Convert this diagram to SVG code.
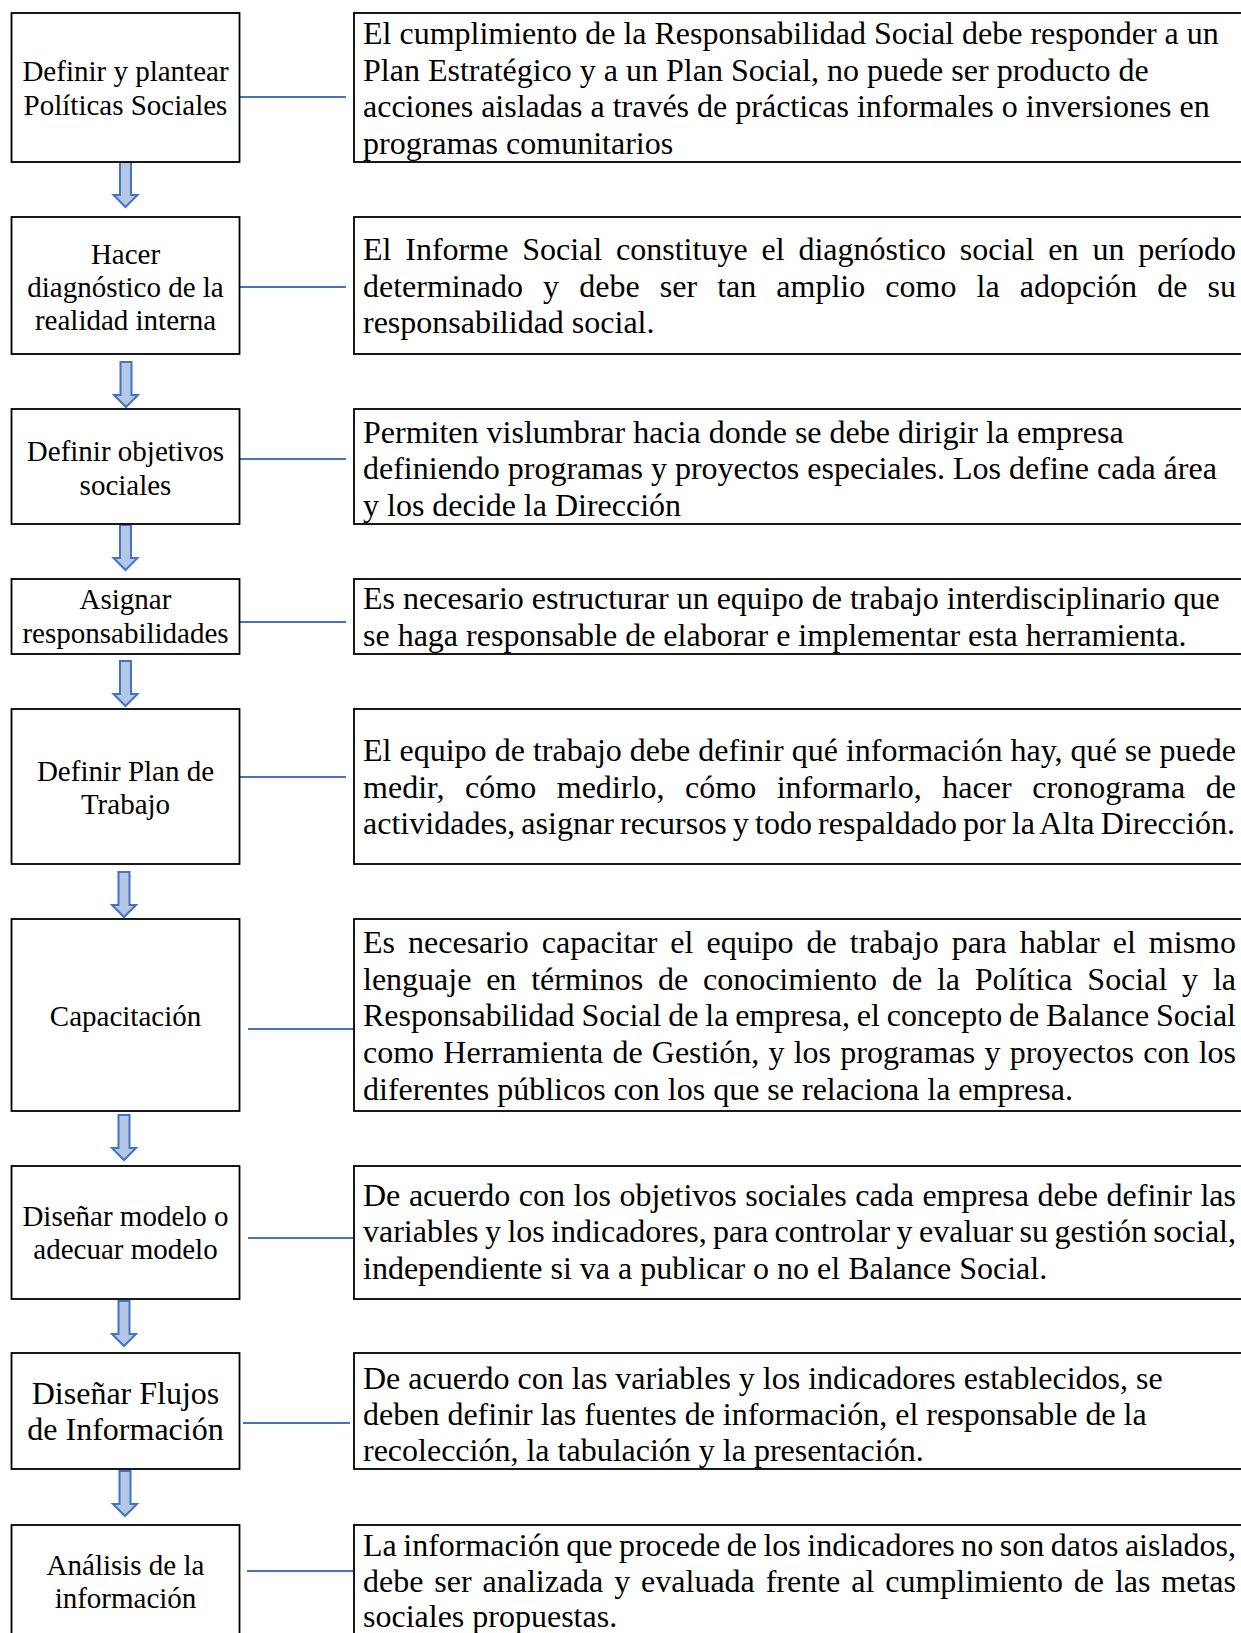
<svg xmlns="http://www.w3.org/2000/svg" xmlns:xlink="http://www.w3.org/1999/xlink" width="1241" height="1633" viewBox="0 0 1241 1633">
  <style>
    .box { fill: #ffffff; stroke: #000000; stroke-width: 1.8; }
    .step { font-family: "Liberation Serif", "Times New Roman", serif; font-size: 29px; fill: #000000; text-anchor: middle; }
    .step-lg { font-size: 32px; }
    .note { font-family: "Liberation Serif", "Times New Roman", serif; font-size: 32px; fill: #000000; }
    .link { stroke: #4472c4; stroke-width: 2; fill: none; }
    .arrow { fill: #b4c7e7; stroke: #4472c4; stroke-width: 2; stroke-linejoin: miter; }
  </style>
  <defs>
    <!-- downward block arrow, origin at top centre of the shaft -->
    <path id="down" d="M-5.5,0 H5.5 V33 H12 L0,45 L-12,33 H-5.5 Z"/>
  </defs>
  <rect width="1241" height="1633" fill="#ffffff"/>

  <!-- horizontal links between each step and its description -->
  <g id="connectors">
    <line class="link" x1="240" y1="97" x2="346" y2="97"/>
    <line class="link" x1="240" y1="287" x2="346" y2="287"/>
    <line class="link" x1="240" y1="459" x2="346" y2="459"/>
    <line class="link" x1="240" y1="622" x2="346" y2="622"/>
    <line class="link" x1="240" y1="777" x2="346" y2="777"/>
    <line class="link" x1="248" y1="1029" x2="354" y2="1029"/>
    <line class="link" x1="248" y1="1238" x2="354" y2="1238"/>
    <line class="link" x1="243" y1="1423" x2="350" y2="1423"/>
    <line class="link" x1="247" y1="1571" x2="354" y2="1571"/>
    <!-- flow arrows between steps -->
    <use xlink:href="#down" class="arrow" x="125.5" y="162"/>
    <use xlink:href="#down" class="arrow" x="126" y="362"/>
    <use xlink:href="#down" class="arrow" x="125.5" y="525"/>
    <use xlink:href="#down" class="arrow" x="125.5" y="661"/>
    <use xlink:href="#down" class="arrow" x="124" y="872"/>
    <use xlink:href="#down" class="arrow" x="124" y="1115"/>
    <use xlink:href="#down" class="arrow" x="124" y="1301"/>
    <use xlink:href="#down" class="arrow" x="125" y="1471"/>
  </g>

  <!-- step boxes -->
  <g id="step1">
    <rect class="box" x="11.5" y="13" width="228" height="149"/>
    <text class="step" x="125.5" y="81.4">Definir y plantear</text>
    <text class="step" x="125.5" y="114.7">Políticas Sociales</text>
  </g>
  <g id="step2">
    <rect class="box" x="11.5" y="217" width="228" height="137"/>
    <text class="step" x="125.5" y="263.6">Hacer</text>
    <text class="step" x="125.5" y="297">diagnóstico de la</text>
    <text class="step" x="125.5" y="330">realidad interna</text>
  </g>
  <g id="step3">
    <rect class="box" x="11.5" y="409" width="228" height="115"/>
    <text class="step" x="125.5" y="461.4">Definir objetivos</text>
    <text class="step" x="125.5" y="494.7">sociales</text>
  </g>
  <g id="step4">
    <rect class="box" x="11.5" y="579" width="228" height="75"/>
    <text class="step" x="125.5" y="609">Asignar</text>
    <text class="step" x="125.5" y="643">responsabilidades</text>
  </g>
  <g id="step5">
    <rect class="box" x="11.5" y="709" width="228" height="155"/>
    <text class="step" x="125.5" y="781">Definir Plan de</text>
    <text class="step" x="125.5" y="814">Trabajo</text>
  </g>
  <g id="step6">
    <rect class="box" x="11.5" y="919" width="228" height="192"/>
    <text class="step" x="125.5" y="1025.6">Capacitación</text>
  </g>
  <g id="step7">
    <rect class="box" x="11.5" y="1166" width="228" height="133"/>
    <text class="step" x="125.5" y="1226">Diseñar modelo o</text>
    <text class="step" x="125.5" y="1259">adecuar modelo</text>
  </g>
  <g id="step8">
    <rect class="box" x="11.5" y="1353" width="228" height="116"/>
    <text class="step step-lg" x="125.5" y="1403.5">Diseñar Flujos</text>
    <text class="step step-lg" x="125.5" y="1440">de Información</text>
  </g>
  <g id="step9">
    <rect class="box" x="11.5" y="1525" width="228" height="140"/>
    <text class="step" x="125.5" y="1575">Análisis de la</text>
    <text class="step" x="125.5" y="1608">información</text>
  </g>

  <!-- description boxes (open on the right, running off the page edge) -->
  <g id="desc1">
    <rect class="box" x="354" y="13" width="920" height="149"/>
    <text class="note" x="363" y="44">El cumplimiento de la Responsabilidad Social debe responder a un</text>
    <text class="note" x="363" y="80.7">Plan Estratégico y a un Plan Social, no puede ser producto de</text>
    <text class="note" x="363" y="117.4">acciones aisladas a través de prácticas informales o inversiones en</text>
    <text class="note" x="363" y="154.1">programas comunitarios</text>
  </g>
  <g id="desc2">
    <rect class="box" x="354" y="217" width="920" height="137"/>
    <text class="note" x="363" y="260" word-spacing="5.85" textLength="873" lengthAdjust="spacing">El Informe Social constituye el diagnóstico social en un período</text>
    <text class="note" x="363" y="296.7" word-spacing="12.1" textLength="873" lengthAdjust="spacing">determinado y debe ser tan amplio como la adopción de su</text>
    <text class="note" x="363" y="333.4">responsabilidad social.</text>
  </g>
  <g id="desc3">
    <rect class="box" x="354" y="409" width="920" height="115"/>
    <text class="note" x="363" y="442.6">Permiten vislumbrar hacia donde se debe dirigir la empresa</text>
    <text class="note" x="363" y="479.3">definiendo programas y proyectos especiales. Los define cada área</text>
    <text class="note" x="363" y="516">y los decide la Dirección</text>
  </g>
  <g id="desc4">
    <rect class="box" x="354" y="579" width="920" height="75"/>
    <text class="note" x="363" y="609">Es necesario estructurar un equipo de trabajo interdisciplinario que</text>
    <text class="note" x="363" y="645.7">se haga responsable de elaborar e implementar esta herramienta.</text>
  </g>
  <g id="desc5">
    <rect class="box" x="354" y="709" width="920" height="155"/>
    <text class="note" x="363" y="761" textLength="873" lengthAdjust="spacing">El equipo de trabajo debe definir qué información hay, qué se puede</text>
    <text class="note" x="363" y="797.7" word-spacing="12.5" textLength="873" lengthAdjust="spacing">medir, cómo medirlo, cómo informarlo, hacer cronograma de</text>
    <text class="note" x="363" y="834.4" word-spacing="-1.9" textLength="872" lengthAdjust="spacing">actividades, asignar recursos y todo respaldado por la Alta Dirección.</text>
  </g>
  <g id="desc6">
    <rect class="box" x="354" y="919" width="920" height="192"/>
    <text class="note" x="363" y="953" word-spacing="5.0" textLength="873" lengthAdjust="spacing">Es necesario capacitar el equipo de trabajo para hablar el mismo</text>
    <text class="note" x="363" y="989.7" word-spacing="6.8" textLength="873" lengthAdjust="spacing">lenguaje en términos de conocimiento de la Política Social y la</text>
    <text class="note" x="363" y="1026.4" word-spacing="-1.16" textLength="873" lengthAdjust="spacing">Responsabilidad Social de la empresa, el concepto de Balance Social</text>
    <text class="note" x="363" y="1063.1" word-spacing="1.18" textLength="873" lengthAdjust="spacing">como Herramienta de Gestión, y los programas y proyectos con los</text>
    <text class="note" x="363" y="1099.8">diferentes públicos con los que se relaciona la empresa.</text>
  </g>
  <g id="desc7">
    <rect class="box" x="354" y="1166" width="920" height="133"/>
    <text class="note" x="363" y="1205.7" word-spacing="0.57" textLength="873" lengthAdjust="spacing">De acuerdo con los objetivos sociales cada empresa debe definir las</text>
    <text class="note" x="363" y="1242.4" word-spacing="-1.57" textLength="873" lengthAdjust="spacing">variables y los indicadores, para controlar y evaluar su gestión social,</text>
    <text class="note" x="363" y="1279">independiente si va a publicar o no el Balance Social.</text>
  </g>
  <g id="desc8">
    <rect class="box" x="354" y="1353" width="920" height="116"/>
    <text class="note" x="363" y="1388.5">De acuerdo con las variables y los indicadores establecidos, se</text>
    <text class="note" x="363" y="1425">deben definir las fuentes de información, el responsable de la</text>
    <text class="note" x="363" y="1461">recolección, la tabulación y la presentación.</text>
  </g>
  <g id="desc9">
    <rect class="box" x="354" y="1525" width="920" height="140"/>
    <text class="note" x="363" y="1556" word-spacing="-1.48" textLength="873" lengthAdjust="spacing">La información que procede de los indicadores no son datos aislados,</text>
    <text class="note" x="363" y="1592" word-spacing="2.88" textLength="873" lengthAdjust="spacing">debe ser analizada y evaluada frente al cumplimiento de las metas</text>
    <text class="note" x="363" y="1627">sociales propuestas.</text>
  </g>
</svg>
